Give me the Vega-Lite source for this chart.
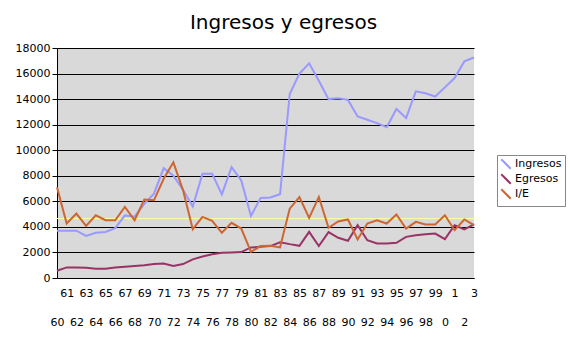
{
  "$schema": "https://vega.github.io/schema/vega-lite/v6.json",
  "width": 417,
  "height": 230,
  "autosize": {"type": "none"},
  "padding": {"left": 57, "top": 48, "right": 96, "bottom": 81},
  "background": "white",
  "title": {"text": "Ingresos y egresos", "font": "DejaVu Sans", "fontSize": 20, "fontWeight": "normal", "color": "black", "anchor": "middle", "dx": 18, "offset": 9},
  "config": {
    "view": {"fill": "#d9d9d9", "stroke": null},
    "axisY": {
      "title": null, "format": "d",
      "labelFont": "DejaVu Sans", "labelFontSize": 11, "labelColor": "black",
      "labelPadding": 2, "tickSize": 5, "tickColor": "black",
      "domainColor": "black", "grid": true, "gridColor": "black", "gridOpacity": 1, "gridWidth": 1
    },
    "legend": {
      "orient": "none", "legendX": 440, "legendY": 107,
      "title": null, "labelFont": "DejaVu Sans", "labelFontSize": 11, "labelColor": "black",
      "symbolType": "M-1,-1L1,1", "symbolSize": 90, "symbolStrokeWidth": 2,
      "padding": 3, "rowPadding": -4, "labelOffset": 3,
      "strokeColor": "#888888", "fillColor": "white"
    }
  },
  "layer": [
    {
      "data": {"values": [{"v": 4650}]},
      "mark": {"type": "rule", "color": "#ffff99", "strokeWidth": 1},
      "encoding": {"y": {"field": "v", "type": "quantitative", "scale": {"domain": [0, 18000], "nice": false},
        "axis": {"values": [0, 2000, 4000, 6000, 8000, 10000, 12000, 14000, 16000, 18000]}}}
    },
    {
      "data": {"values": [
        {"year": 1960, "Ingresos": 3700, "Egresos": 570, "I/E": 7100},
        {"year": 1961, "Ingresos": 3700, "Egresos": 830, "I/E": 4260},
        {"year": 1962, "Ingresos": 3700, "Egresos": 830, "I/E": 5040},
        {"year": 1963, "Ingresos": 3300, "Egresos": 810, "I/E": 4080},
        {"year": 1964, "Ingresos": 3540, "Egresos": 730, "I/E": 4910},
        {"year": 1965, "Ingresos": 3600, "Egresos": 730, "I/E": 4520},
        {"year": 1966, "Ingresos": 3900, "Egresos": 830, "I/E": 4520},
        {"year": 1967, "Ingresos": 4900, "Egresos": 880, "I/E": 5560},
        {"year": 1968, "Ingresos": 4800, "Egresos": 940, "I/E": 4520},
        {"year": 1969, "Ingresos": 5800, "Egresos": 990, "I/E": 6140},
        {"year": 1970, "Ingresos": 6600, "Egresos": 1090, "I/E": 6080},
        {"year": 1971, "Ingresos": 8600, "Egresos": 1140, "I/E": 7770},
        {"year": 1972, "Ingresos": 8000, "Egresos": 940, "I/E": 9050},
        {"year": 1973, "Ingresos": 6900, "Egresos": 1090, "I/E": 6860},
        {"year": 1974, "Ingresos": 5600, "Egresos": 1460, "I/E": 3820},
        {"year": 1975, "Ingresos": 8150, "Egresos": 1680, "I/E": 4780},
        {"year": 1976, "Ingresos": 8150, "Egresos": 1860, "I/E": 4480},
        {"year": 1977, "Ingresos": 6550, "Egresos": 1980, "I/E": 3540},
        {"year": 1978, "Ingresos": 8680, "Egresos": 2000, "I/E": 4320},
        {"year": 1979, "Ingresos": 7640, "Egresos": 2030, "I/E": 3870},
        {"year": 1980, "Ingresos": 4860, "Egresos": 2390, "I/E": 2050},
        {"year": 1981, "Ingresos": 6270, "Egresos": 2440, "I/E": 2500},
        {"year": 1982, "Ingresos": 6300, "Egresos": 2500, "I/E": 2520},
        {"year": 1983, "Ingresos": 6550, "Egresos": 2800, "I/E": 2390},
        {"year": 1984, "Ingresos": 14400, "Egresos": 2650, "I/E": 5430},
        {"year": 1985, "Ingresos": 16000, "Egresos": 2520, "I/E": 6340},
        {"year": 1986, "Ingresos": 16800, "Egresos": 3610, "I/E": 4700},
        {"year": 1987, "Ingresos": 15440, "Egresos": 2500, "I/E": 6340},
        {"year": 1988, "Ingresos": 14000, "Egresos": 3590, "I/E": 3930},
        {"year": 1989, "Ingresos": 14060, "Egresos": 3150, "I/E": 4420},
        {"year": 1990, "Ingresos": 13940, "Egresos": 2910, "I/E": 4580},
        {"year": 1991, "Ingresos": 12640, "Egresos": 4130, "I/E": 3020},
        {"year": 1992, "Ingresos": 12380, "Egresos": 2960, "I/E": 4260},
        {"year": 1993, "Ingresos": 12120, "Egresos": 2700, "I/E": 4520},
        {"year": 1994, "Ingresos": 11800, "Egresos": 2700, "I/E": 4260},
        {"year": 1995, "Ingresos": 13230, "Egresos": 2750, "I/E": 4970},
        {"year": 1996, "Ingresos": 12530, "Egresos": 3220, "I/E": 3870},
        {"year": 1997, "Ingresos": 14610, "Egresos": 3350, "I/E": 4390},
        {"year": 1998, "Ingresos": 14460, "Egresos": 3430, "I/E": 4190},
        {"year": 1999, "Ingresos": 14200, "Egresos": 3480, "I/E": 4190},
        {"year": 2000, "Ingresos": 14920, "Egresos": 3040, "I/E": 4910},
        {"year": 2001, "Ingresos": 15650, "Egresos": 4130, "I/E": 3740},
        {"year": 2002, "Ingresos": 16950, "Egresos": 3800, "I/E": 4580},
        {"year": 2003, "Ingresos": 17260, "Egresos": 4190, "I/E": 4130}
      ]},
      "transform": [{"fold": ["Ingresos", "Egresos", "I/E"], "as": ["serie", "valor"]}],
      "mark": {"type": "line", "strokeWidth": 2},
      "encoding": {
        "x": {
          "field": "year", "type": "quantitative",
          "scale": {"domain": [1960, 2003], "nice": false, "zero": false},
          "axis": {
            "title": null,
            "values": [1960,1961,1962,1963,1964,1965,1966,1967,1968,1969,1970,1971,1972,1973,1974,1975,1976,1977,1978,1979,1980,1981,1982,1983,1984,1985,1986,1987,1988,1989,1990,1991,1992,1993,1994,1995,1996,1997,1998,1999,2000,2001,2002,2003],
            "labelExpr": "datum.value % 2 == 0 ? ['', '' + (datum.value % 100)] : '' + (datum.value % 100)",
            "labelFont": "DejaVu Sans", "labelFontSize": 11, "labelColor": "black",
            "labelBaseline": "top", "labelPadding": 9, "labelLineHeight": 29,
            "labelOverlap": false, "labelFlush": false, "labelBound": false,
            "ticks": false, "tickSize": 0, "grid": false, "domainColor": "black", "domainWidth": 1
          }
        },
        "y": {
          "field": "valor", "type": "quantitative",
          "scale": {"domain": [0, 18000], "nice": false},
          "axis": {"values": [0, 2000, 4000, 6000, 8000, 10000, 12000, 14000, 16000, 18000]}
        },
        "color": {
          "field": "serie", "type": "nominal",
          "scale": {"domain": ["Ingresos", "Egresos", "I/E"], "range": ["#9999ff", "#993366", "#cc6633"]},
          "legend": {}
        }
      }
    }
  ]
}
